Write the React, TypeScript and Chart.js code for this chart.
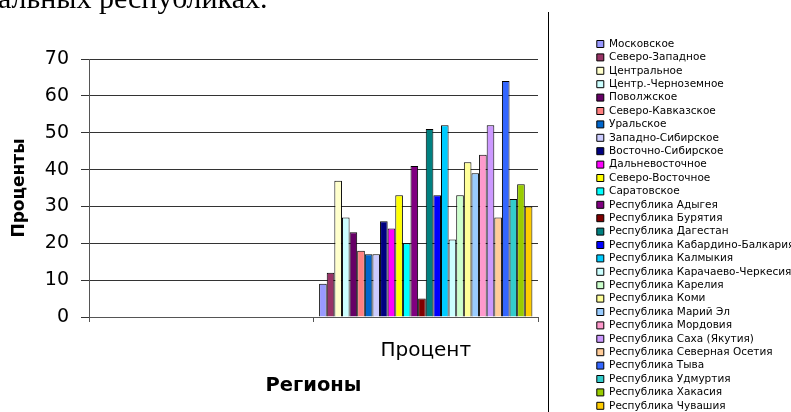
import React, { useEffect, useRef } from "react";
import { Chart, registerables } from "chart.js";

Chart.register(...registerables);

const categories: string[] = ["", "Процент"];

const regions: string[] = [
  "Московское",
  "Северо-Западное",
  "Центральное",
  "Центр.-Черноземное",
  "Поволжское",
  "Северо-Кавказское",
  "Уральское",
  "Западно-Сибирское",
  "Восточно-Сибирское",
  "Дальневосточное",
  "Северо-Восточное",
  "Саратовское",
  "Республика Адыгея",
  "Республика Бурятия",
  "Республика Дагестан",
  "Республика Кабардино-Балкария",
  "Республика Калмыкия",
  "Республика Карачаево-Черкесия",
  "Республика Карелия",
  "Республика Коми",
  "Республика Марий Эл",
  "Республика Мордовия",
  "Республика Саха (Якутия)",
  "Республика Северная Осетия",
  "Республика Тыва",
  "Республика Удмуртия",
  "Республика Хакасия",
  "Республика Чувашия",
];

const percents: number[] = [
  9, 12, 37, 27, 23, 18, 17, 17, 26, 24, 33, 20, 41, 5, 51, 33, 52, 21, 33, 42,
  39, 44, 52, 27, 64, 32, 36, 30,
];

const colors: string[] = [
  "#9999FF", "#993366", "#FFFFCC", "#CCFFFF", "#660066", "#FF8080", "#0066CC",
  "#CCCCFF", "#000080", "#FF00FF", "#FFFF00", "#00FFFF", "#800080", "#800000",
  "#008080", "#0000FF", "#00CCFF", "#CCFFFF", "#CCFFCC", "#FFFF99", "#99CCFF",
  "#FF99CC", "#CC99FF", "#FFCC99", "#3366FF", "#33CCCC", "#99CC00", "#FFCC00",
];

const yMin = 0;
const yMax = 70;
const yStep = 10;

const xTitle = "Регионы";
const yTitle = "Проценты";
const pageText = "альных республиках.";

const CANVAS_W = 791;
const CANVAS_H = 430;

export default function App() {
  const ref = useRef<HTMLCanvasElement | null>(null);

  useEffect(() => {
    if (!ref.current) return;
    const datasets = regions.map((name, i) => ({
      label: name,
      data: categories.map((c, ci) => (ci === 1 ? percents[i] : null)),
      backgroundColor: colors[i],
      borderColor: "#000000",
      borderWidth: 1,
      categoryPercentage: 0.95,
      barPercentage: 1.0,
    }));

    const chart = new Chart(ref.current, {
      type: "bar",
      data: { labels: categories, datasets: datasets as any },
      options: {
        animation: false,
        responsive: false,
        layout: { padding: 0 },
        plugins: {
          tooltip: { enabled: false },
          title: {
            display: true,
            text: "",
            font: { size: 10 },
            padding: { top: 47, bottom: 0 },
          },
          legend: {
            position: "right",
            align: "start",
            maxWidth: 197.1,
            title: {
              display: true,
              text: "",
              font: { size: 10 },
              padding: { top: 23.85, bottom: 0 },
            },
            labels: {
              boxWidth: 7,
              boxHeight: 7,
              padding: 2.9,
              color: "#000000",
              font: { family: "'DejaVu Sans'", size: 10.5 },
            },
          },
        },
        scales: {
          x: {
            type: "category",
            offset: true,
            grid: {
              display: true,
              drawOnChartArea: false,
              drawTicks: true,
              tickLength: 5,
              color: "#555555",
              offset: true,
            },
            border: { display: true, color: "#555555" },
            ticks: {
              color: "#000000",
              font: { family: "'DejaVu Sans'", size: 20 },
              padding: 17,
              maxRotation: 0,
              autoSkip: false,
            },
            title: {
              display: true,
              text: xTitle,
              color: "#000000",
              font: { family: "'DejaVu Sans'", size: 19.5, weight: "bold" },
              padding: { top: 0, bottom: 32.3 },
            },
            afterFit: (s: any) => {
              s.height = CANVAS_H - 317;
            },
          },
          y: {
            type: "linear",
            position: "left",
            min: yMin,
            max: yMax,
            grid: {
              color: "#333333",
              tickLength: 8,
              drawTicks: true,
            },
            border: { display: true, color: "#555555" },
            ticks: {
              stepSize: yStep,
              color: "#000000",
              font: { family: "'DejaVu Sans'", size: 19 },
              padding: 12,
            },
            title: {
              display: true,
              text: yTitle,
              color: "#000000",
              font: { family: "'DejaVu Sans'", size: 17, weight: "bold" },
              padding: { top: 9, bottom: 0 },
            },
            afterFit: (s: any) => {
              s.width = 89;
            },
          },
          yR: {
            type: "linear",
            position: "right",
            display: true,
            grid: { display: false },
            border: { display: false },
            ticks: { display: false },
            afterFit: (s: any) => {
              s.width = 55.9;
            },
          },
        },
      },
    });
    return () => chart.destroy();
  }, []);

  return (
    <div
      style={{
        position: "absolute",
        left: 0,
        top: 0,
        width: 791,
        height: 412,
        overflow: "hidden",
        background: "#ffffff",
      }}
    >
      <canvas
        ref={ref}
        width={CANVAS_W}
        height={CANVAS_H}
        style={{ position: "absolute", left: 0, top: 0, width: CANVAS_W, height: CANVAS_H }}
      />
      <div
        style={{
          position: "absolute",
          left: -2,
          top: -19,
          fontFamily: "'Liberation Serif', serif",
          fontSize: 30,
          whiteSpace: "nowrap",
          color: "#000",
        }}
      >
        {pageText}
      </div>
      <div
        style={{
          position: "absolute",
          left: 548,
          top: 12,
          width: 1,
          height: 400,
          background: "#000",
        }}
      />
    </div>
  );
}
